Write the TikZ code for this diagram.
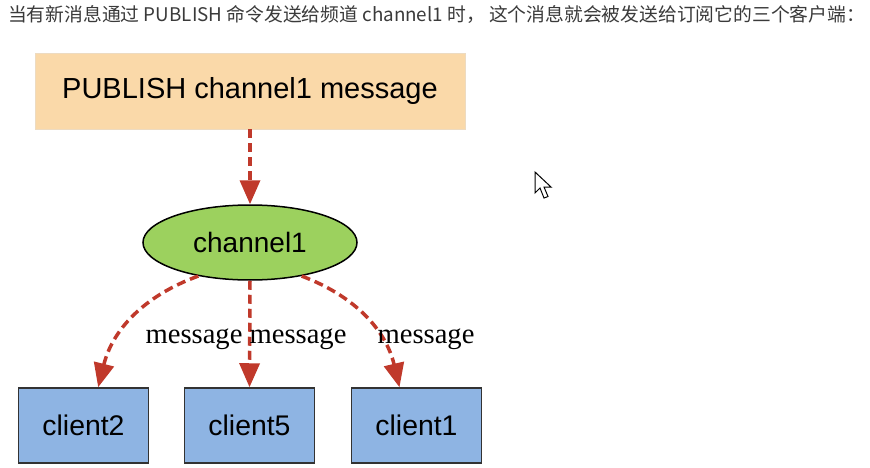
\documentclass[tikz,border=0pt]{standalone}
\usepackage{fontspec}
\setmainfont{Liberation Sans}
\newfontfamily\seriffont{Liberation Serif}
\newfontfamily\cjkfont{Noto Sans CJK SC}
\usetikzlibrary{arrows.meta,shapes.geometric}
\definecolor{pubfill}{HTML}{FAD9A9}
\definecolor{chfill}{HTML}{9CD15E}
\definecolor{clfill}{HTML}{8EB4E3}
\definecolor{arrowred}{HTML}{C0392B}
\definecolor{textgray}{HTML}{3A3A3A}
\tikzset{
  pubbox/.style={rectangle, fill=pubfill, draw=pubfill!90!black!60, line width=0.4pt,
    minimum width=430, minimum height=76, inner sep=0pt,
    font=\fontsize{29}{33}\selectfont},
  chnode/.style={ellipse, fill=chfill, draw=black, line width=1.5pt,
    minimum width=214, minimum height=75, inner sep=0pt,
    font=\fontsize{28}{32}\selectfont},
  clbox/.style={rectangle, fill=clfill, draw=black!80, line width=1.5pt,
    minimum width=130, minimum height=75, inner sep=0pt,
    font=\fontsize{28.4}{32}\selectfont},
  msgarrow/.style={draw=arrowred, line width=3.5pt, dash pattern=on 9pt off 5pt,
    -{Triangle[width=20pt,length=24pt]}, arrowred},
  msglabel/.style={anchor=base, inner sep=0pt, font=\seriffont\fontsize{28.6}{32}\selectfont}
}
\begin{document}
\begin{tikzpicture}[x=1pt,y=-1pt]
\useasboundingbox (0,0) rectangle (870,468);
\fill[white] (0,0) rectangle (870,468);

\node[anchor=base west, inner sep=0pt, text=textgray,
  font=\cjkfont\fontsize{18.8}{21}\selectfont] (title) at (8,22)
  {当有新消息通过 PUBLISH 命令发送给频道 channel1 时， 这个消息就会被发送给订阅它的三个客户端：};

\node[pubbox] (pub) at (250,91) {PUBLISH channel1 message};
\node[chnode] (ch) at (250,242.5) {channel1};
\node[clbox] (c2) at (83.5,425.5) {client2};
\node[clbox] (c5) at (249.5,425.5) {client5};
\node[clbox] (c1) at (416.5,425.5) {client1};

\draw[msgarrow] (pub.south) -- (ch.north);
\draw[msgarrow] (ch.213) to[bend right=28] (c2.69);
\draw[msgarrow] (ch.south) -- (c5.north);
\draw[msgarrow] (ch.327) to[bend left=28] (c1.114);

\node[msglabel] (m2) at (194,343) {message};
\node[msglabel] (m5) at (298,343) {message};
\node[msglabel] (m1) at (426,343) {message};

% mouse cursor
\draw[fill=white, line width=1pt, line join=miter]
  (535,172) -- (535,193) -- (540,188) -- (544,198) -- (548,196.5) -- (544,187) -- (551,187) -- cycle;
\end{tikzpicture}
\end{document}
